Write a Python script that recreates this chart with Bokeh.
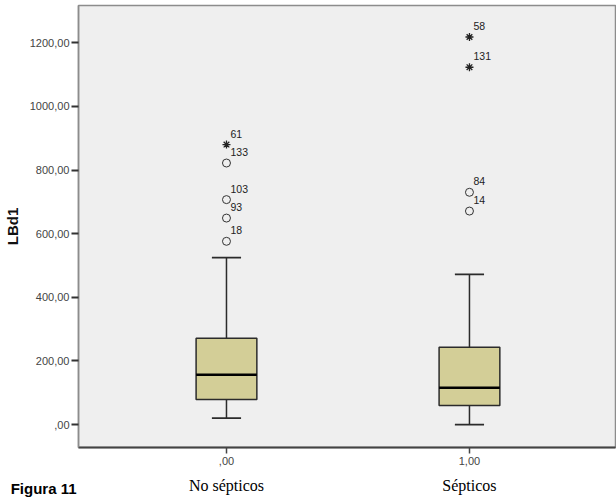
from bokeh.plotting import figure
from bokeh.layouts import column
from bokeh.models import (ColumnDataSource, FixedTicker, LinearAxis, Range1d)
from bokeh.core.properties import value
from bokeh.embed import file_html
from bokeh.resources import INLINE

# ---- data ----
group_ticks = [0, 1]
group_codes = [",00", "1,00"]
group_names = ["No sépticos", "Sépticos"]
lower_whisker = [20, 0]
q1 = [79, 60]
median = [157, 116]
q3 = [271, 243]
upper_whisker = [525, 472]

out_x = [0, 0, 0, 0, 1, 1]
out_val = [576, 649, 707, 822, 671, 730]
out_id = ["18", "93", "103", "133", "14", "84"]

ext_x = [0, 1, 1]
ext_val = [880, 1123, 1218]
ext_id = ["61", "131", "58"]

y_ticks = [0, 200, 400, 600, 800, 1000, 1200]
y_tick_labels = [",00", "200,00", "400,00", "600,00", "800,00", "1000,00", "1200,00"]

caption = "Figura 11"

# ---- main figure ----
W = 616
xr = Range1d(-0.609, 1.601)
p = figure(width=W, height=475, output_backend="svg", toolbar_location=None,
           x_range=xr, y_range=Range1d(-72, 1317),
           x_axis_type=None, y_axis_type=None,
           min_border_left=78, min_border_right=1, min_border_top=5, min_border_bottom=28)
p.background_fill_color = "#EFEFEF"
p.border_fill_color = "white"
p.outline_line_color = "#8c8c8c"
p.outline_line_width = 1.5
p.grid.visible = False

box_w = 0.25
cap_w = 0.12
src = ColumnDataSource(dict(x=group_ticks, lw=lower_whisker, q1=q1, med=median,
                            q3=q3, uw=upper_whisker,
                            cl=[g - cap_w / 2 for g in group_ticks],
                            cr=[g + cap_w / 2 for g in group_ticks],
                            bl=[g - box_w / 2 for g in group_ticks],
                            br=[g + box_w / 2 for g in group_ticks]))

lc = "#2b2b2b"
p.segment(x0="x", y0="q3", x1="x", y1="uw", source=src, line_color=lc, line_width=1.5)
p.segment(x0="x", y0="lw", x1="x", y1="q1", source=src, line_color=lc, line_width=1.5)
p.segment(x0="cl", y0="uw", x1="cr", y1="uw", source=src, line_color=lc, line_width=1.8)
p.segment(x0="cl", y0="lw", x1="cr", y1="lw", source=src, line_color=lc, line_width=1.8)
p.quad(left="bl", right="br", bottom="q1", top="q3", source=src,
       fill_color="#D3CE97", line_color=lc, line_width=1.5)
p.segment(x0="bl", y0="med", x1="br", y1="med", source=src, line_color="black", line_width=2.5)

osrc = ColumnDataSource(dict(x=out_x, y=out_val, t=out_id))
p.scatter(x="x", y="y", source=osrc, marker="circle", size=8, fill_color=None,
          line_color="#333333", line_width=1)
p.text(x="x", y="y", text="t", source=osrc, x_offset=4, y_offset=-11,
       text_font=value("Liberation Sans"), text_font_size="10.5px",
       text_color="#222222", text_align="left", text_baseline="middle")

esrc = ColumnDataSource(dict(x=ext_x, y=ext_val, t=ext_id))
p.scatter(x="x", y="y", source=esrc, marker="asterisk", size=8,
          line_color="#222222", line_width=1.3)
p.text(x="x", y="y", text="t", source=esrc, x_offset=4, y_offset=-11,
       text_font=value("Liberation Sans"), text_font_size="10.5px",
       text_color="#222222", text_align="left", text_baseline="middle")

# y axis
yax = LinearAxis(ticker=FixedTicker(ticks=y_ticks),
                 major_label_overrides={t: l for t, l in zip(y_ticks, y_tick_labels)},
                 axis_label="LBd1")
yax.axis_line_color = "#8c8c8c"
yax.axis_line_width = 1.5
yax.major_tick_line_color = "#333333"
yax.major_tick_line_width = 2
yax.major_tick_out = 7
yax.major_tick_in = 0
yax.minor_tick_line_color = None
yax.major_label_standoff = 2
yax.major_label_text_font = "Liberation Sans"
yax.major_label_text_font_size = "11px"
yax.major_label_text_color = "#444444"
yax.axis_label_text_font = "Liberation Sans"
yax.axis_label_text_font_style = "bold"
yax.axis_label_text_font_size = "15px"
yax.axis_label_text_color = "#111111"
yax.axis_label_standoff = 6
p.add_layout(yax, "left")

# x axis (codes)
xax = LinearAxis(ticker=FixedTicker(ticks=group_ticks),
                 major_label_overrides={t: l for t, l in zip(group_ticks, group_codes)})
xax.axis_line_color = "#444444"
xax.axis_line_width = 2
xax.major_tick_line_color = "#444444"
xax.major_tick_line_width = 1.5
xax.major_tick_out = 6
xax.major_tick_in = 0
xax.minor_tick_line_color = None
xax.major_label_standoff = 3
xax.major_label_text_font = "Liberation Sans"
xax.major_label_text_font_size = "11px"
xax.major_label_text_color = "#444444"
p.add_layout(xax, "below")

# ---- strip below: group names (shared x scale) and the caption at left ----
p2 = figure(width=W, height=25, output_backend="svg", toolbar_location=None,
            x_range=xr, y_range=Range1d(0, 1),
            x_axis_type=None, y_axis_type=None,
            min_border_left=0, min_border_right=1, min_border_top=0, min_border_bottom=0)
p2.background_fill_color = "white"
p2.border_fill_color = "white"
p2.outline_line_color = None
p2.grid.visible = False

nsrc = ColumnDataSource(dict(x=group_ticks, y=[0.6] * len(group_ticks), t=group_names))
p2.text(x="x", y="y", text="t", source=nsrc, text_align="center", text_baseline="middle",
        text_font=value("Liberation Serif"), text_font_size="16px", text_color="black")

cax = LinearAxis(ticker=FixedTicker(ticks=[]), axis_label=caption)
cax.axis_line_color = None
cax.major_tick_line_color = None
cax.minor_tick_line_color = None
cax.major_tick_out = 0
cax.major_tick_in = 0
cax.major_label_standoff = 0
cax.axis_label_standoff = 2
cax.axis_label_orientation = "horizontal"
cax.axis_label_text_font = "Liberation Sans"
cax.axis_label_text_font_style = "bold"
cax.axis_label_text_font_size = "15px"
cax.axis_label_text_color = "black"
p2.add_layout(cax, "left")

layout = column(p, p2, spacing=0)
open("out.html", "w").write(file_html(layout, INLINE))
